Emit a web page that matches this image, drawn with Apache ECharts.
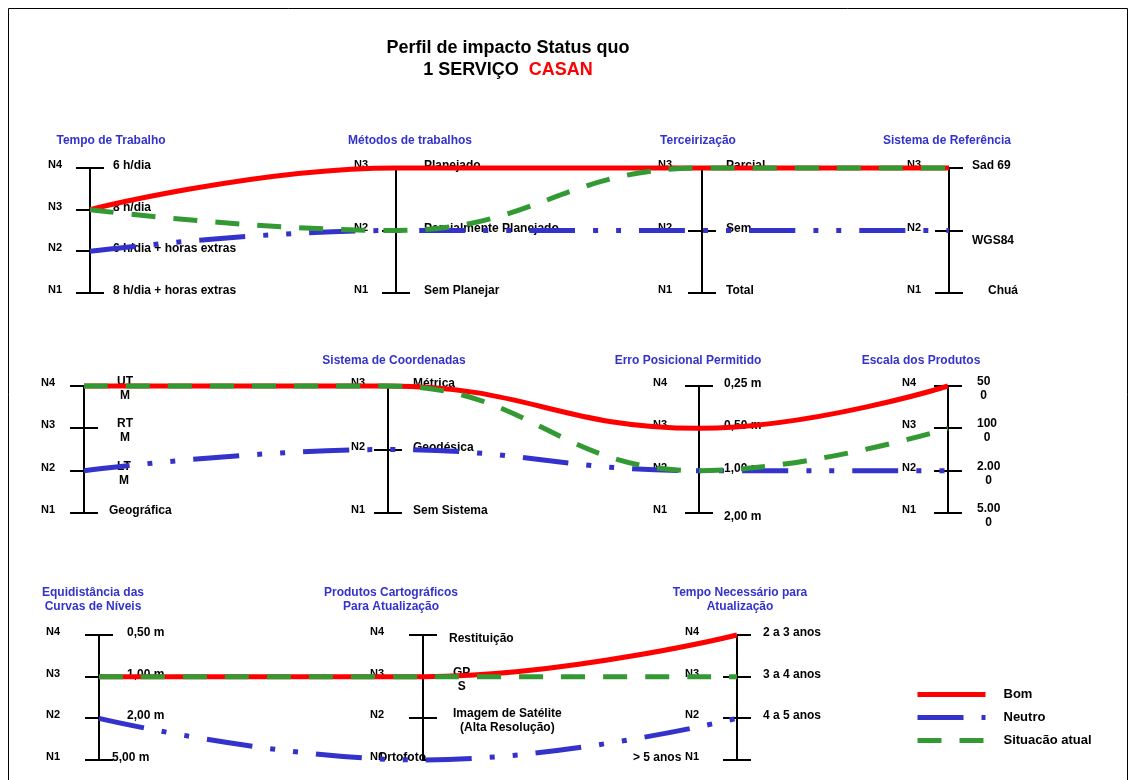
<!DOCTYPE html>
<html>
<head>
<meta charset="utf-8">
<title>Perfil de impacto Status quo</title>
<script src="https://cdn.jsdelivr.net/npm/echarts@6/dist/echarts.min.js"></script>
<style>
  html, body { margin: 0; padding: 0; background: #fff; }
  #chart { width: 1136px; height: 780px; }
</style>
</head>
<body>
<div id="chart"></div>
<script>
// ---- Data: criteria, number of levels, option texts (N1 first) and profile levels ----
const row1Criteria = ['Tempo de Trabalho', 'Métodos de trabalhos', 'Terceirização', 'Sistema de Referência'];
const row1Levels = [4, 3, 3, 3];
const row1Options = [
  ['8 h/dia + horas extras', '6 h/dia + horas extras', '8 h/dia', '6 h/dia'],
  ['Sem Planejar', 'Parcialmente Planejado', 'Planejado'],
  ['Total', 'Sem', 'Parcial'],
  ['Chuá', 'WGS84', 'Sad 69']
];
const row1Bom = [3, 3, 3, 3];
const row1Neutro = [2, 2, 2, 2];
const row1Atual = [3, 2, 3, 3];

const row2Criteria = ['', 'Sistema de Coordenadas', 'Erro Posicional Permitido', 'Escala dos Produtos'];
const row2Levels = [4, 3, 4, 4];
const row2Options = [
  ['Geográfica', 'LT\nM', 'RT\nM', 'UT\nM'],
  ['Sem Sistema', 'Geodésica', 'Métrica'],
  ['2,00 m', '1,00 m', '0,50 m', '0,25 m'],
  ['5.00\n0', '2.00\n0', '100\n0', '50\n0']
];
const row2Bom = [4, 3, 3, 4];
const row2Neutro = [2, 2, 2, 2];
const row2Atual = [4, 3, 2, 3];

const row3Criteria = ['Equidistância das\nCurvas de Níveis', 'Produtos Cartográficos\nPara Atualização', 'Tempo Necessário para\nAtualização'];
const row3Levels = [4, 4, 4];
const row3Options = [
  ['5,00 m', '2,00 m', '1,00 m', '0,50 m'],
  ['Ortofoto', 'Imagem de Satélite\n(Alta Resolução)', 'GP\nS', 'Restituição'],
  ['> 5 anos', '4 a 5 anos', '3 a 4 anos', '2 a 3 anos']
];
const row3Bom = [3, 3, 4];
const row3Neutro = [2, 1, 2];
const row3Atual = [3, 3, 3];

const seriesNames = ['Bom', 'Neutro', 'Situacão atual'];

// ---- Styling / layout ----
const FONT = 'Liberation Sans';
const RED = '#FF0000';
const BLUE = '#3333CC';
const GREEN = '#339933';
const TICK = 14;

const ROWS = [
  { criteria: row1Criteria, levels: row1Levels, options: row1Options, values: [row1Bom, row1Neutro, row1Atual] },
  { criteria: row2Criteria, levels: row2Levels, options: row2Options, values: [row2Bom, row2Neutro, row2Atual] },
  { criteria: row3Criteria, levels: row3Levels, options: row3Options, values: [row3Bom, row3Neutro, row3Atual] }
];

// slots: relative spacing of the vertical axes inside each row
const LAYOUT = [
  { left: 90, right: 187, top: 168, bottom: 293, slots: [0, 1, 2, 2.807],
    ticks: ['BLLB', 'BLB', 'BBB', 'BBR'], titleDx: [21, 14, -4, -2], titleDy: -27,
    nDx: [-35, -35, -37, -35], optDx: [23, 28, 24, 23], multiDx: [4, 4, 4, 4] },
  { left: 84, right: 188, top: 386, bottom: 513, slots: [0, 1, 2.023, 2.842],
    ticks: ['BLBL', 'BBB', 'BRBB', 'BBBB'], titleDx: [0, 6, -11, -27], titleDy: -25,
    nDx: [-36, -30, -39, -39], optDx: [25, 25, 25, 25], multiDx: [8, 4, 4, 4] },
  { left: 99, right: 399, top: 635, bottom: 760, slots: [0, 1, 1.969],
    ticks: ['BLLB', 'RBRB', 'BBBR'], titleDx: [-6, -32, 3], titleDy: -35,
    nDx: [-46, -46, -45], optDx: [28, 26, 26], multiDx: [4, 4, 4] }
];

// individual option labels that sit away from the default place (row-axis-level)
const LABEL_SHIFT = {
  '0-3-1': { dx: 39 },
  '0-3-2': { dy: 12 },
  '1-2-1': { dy: 6 },
  '2-0-1': { dx: 13 },
  '2-1-1': { dx: -45 },
  '2-1-4': { dy: 6 },
  '2-2-1': { dx: -104 }
};

const LINE_TYPES = ['solid', [46, 18, 5, 18, 5, 18], [24, 18]];
const LINE_COLORS = [RED, BLUE, GREEN];

function levelToY(level, n) {
  return 1 + (level - 1) * 3 / (n - 1);
}

const measureCtx = document.createElement('canvas').getContext('2d');
function textWidth(text, size) {
  measureCtx.font = 'bold ' + size + 'px "' + FONT + '"';
  return Math.max.apply(null, text.split('\n').map(l => measureCtx.measureText(l).width));
}

function axisRenderer(r) {
  const row = ROWS[r];
  const lay = LAYOUT[r];
  return function (params, api) {
    const i = params.dataIndex;
    const n = row.levels[i];
    const slot = api.value(0);
    const x = Math.round(api.coord([slot, 1])[0]);
    const yOf = L => Math.round(api.coord([slot, levelToY(L, n)])[1]);
    const children = [];
    children.push({
      type: 'line',
      shape: { x1: x, y1: yOf(n), x2: x, y2: yOf(1) },
      style: { stroke: '#000', lineWidth: 2 }
    });
    for (let L = 1; L <= n; L++) {
      const y = yOf(L);
      const side = lay.ticks[i][L - 1];
      children.push({
        type: 'line',
        shape: { x1: side === 'R' ? x : x - TICK, y1: y, x2: side === 'L' ? x : x + TICK, y2: y },
        style: { stroke: '#000', lineWidth: 2 }
      });
      children.push({
        type: 'text',
        style: {
          text: 'N' + L, x: x + lay.nDx[i], y: y - 3,
          align: 'center', verticalAlign: 'middle',
          fill: '#000', fontFamily: FONT, fontWeight: 'bold', fontSize: 11
        }
      });
      const txt = row.options[i][L - 1];
      const shift = LABEL_SHIFT[r + '-' + i + '-' + L] || {};
      const multi = txt.indexOf('\n') >= 0;
      const dx = shift.dx !== undefined ? shift.dx : lay.optDx[i];
      let tx = x + dx;
      if (multi) tx += lay.multiDx[i] + textWidth(txt, 12) / 2;
      children.push({
        type: 'text',
        style: {
          text: txt, x: tx, y: y - 2 + (shift.dy || 0) + (multi ? 5 : 0),
          align: multi ? 'center' : 'left', verticalAlign: 'middle', lineHeight: 14,
          fill: '#000', fontFamily: FONT, fontWeight: 'bold', fontSize: 12
        }
      });
    }
    if (row.criteria[i]) {
      children.push({
        type: 'text',
        style: {
          text: row.criteria[i], x: x + lay.titleDx[i], y: yOf(n) + lay.titleDy,
          align: 'center', verticalAlign: 'middle', lineHeight: 14,
          fill: BLUE, fontFamily: FONT, fontWeight: 'bold', fontSize: 12
        }
      });
    }
    return { type: 'group', children: children };
  };
}

const grids = [], xAxes = [], yAxes = [], series = [];
ROWS.forEach((row, r) => {
  const lay = LAYOUT[r];
  grids.push({ left: lay.left, right: lay.right, top: lay.top, height: lay.bottom - lay.top, containLabel: false });
  xAxes.push({ type: 'value', gridIndex: r, min: 0, max: lay.slots[lay.slots.length - 1], show: false });
  yAxes.push({ type: 'value', gridIndex: r, min: 1, max: 4, show: false });
  series.push({
    type: 'custom',
    name: 'eixos' + r,
    xAxisIndex: r, yAxisIndex: r,
    coordinateSystem: 'cartesian2d',
    renderItem: axisRenderer(r),
    data: lay.slots.map((s, i) => [s, 1, i]),
    encode: { x: 0, y: 1 },
    clip: false, silent: true, z: 1
  });
  row.values.forEach((vals, k) => {
    series.push({
      type: 'line',
      name: seriesNames[k],
      xAxisIndex: r, yAxisIndex: r,
      data: vals.map((L, i) => [lay.slots[i], levelToY(L, row.levels[i])]),
      smooth: 0.45,
      symbol: 'none', showSymbol: false,
      itemStyle: { color: LINE_COLORS[k] },
      lineStyle: { color: LINE_COLORS[k], width: 5, type: LINE_TYPES[k], cap: 'butt' },
      clip: false, silent: true,
      z: 3 + k
    });
  });
});

const chart = echarts.init(document.getElementById('chart'));
chart.setOption({
  animation: false,
  backgroundColor: '#fff',
  grid: grids,
  xAxis: xAxes,
  yAxis: yAxes,
  series: series,
  legend: {
    data: seriesNames,
    orient: 'vertical',
    left: 915, top: 688, padding: 0,
    itemWidth: 68, itemHeight: 14, itemGap: 10,
    itemStyle: { opacity: 0 },
    lineStyle: { width: 5 },
    textStyle: { color: '#000', fontFamily: FONT, fontWeight: 'bold', fontSize: 13, padding: [0, 0, 0, 13] }
  },
  graphic: [
    {
      type: 'rect', silent: true, z: 0,
      shape: { x: 8.5, y: 8.5, width: 1119, height: 800 },
      style: { fill: 'none', stroke: '#000', lineWidth: 1 }
    },
    {
      type: 'text', x: 508, y: 37, silent: true,
      style: {
        text: '{t|Perfil de impacto Status quo}\n{t|1 SERVIÇO  }{r|CASAN}',
        align: 'center', verticalAlign: 'top',
        rich: {
          t: { fontFamily: FONT, fontWeight: 'bold', fontSize: 18, fill: '#000', lineHeight: 22 },
          r: { fontFamily: FONT, fontWeight: 'bold', fontSize: 18, fill: RED, lineHeight: 22 }
        }
      }
    }
  ]
});
</script>
</body>
</html>
